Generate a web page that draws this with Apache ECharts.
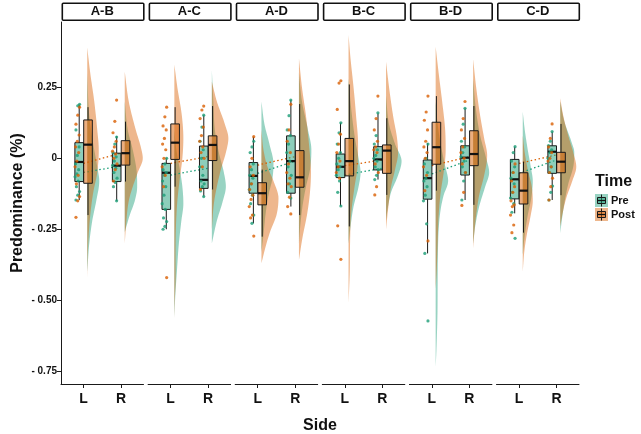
<!DOCTYPE html>
<html><head><meta charset="utf-8">
<script src="https://cdn.jsdelivr.net/npm/echarts@6/dist/echarts.min.js"></script>
<style>html,body{margin:0;padding:0;background:#fff}#c{width:641px;height:434px}</style>
</head><body><div id="c"></div>
<script>
// ---------------- DATA ----------------
const panels = ['A-B','A-C','A-D','B-C','B-D','C-D'];
const sides = ['L','R'];
const times = ['Pre','Post'];
const yTicks = [-0.75,-0.5,-0.25,0,0.25];
const yTickLabels = ['- 0.75','- 0.50','- 0.25','0','0.25'];

// individual observations (one array per panel)
const ptsPreL = [
  [0.19,0.185,0.10,0.04,0.01,-0.02,-0.04,-0.055,-0.065,-0.08,-0.10,-0.117,-0.13,-0.147],
  [0.0,-0.02,-0.04,-0.05,-0.06,-0.08,-0.1,-0.13,-0.16,-0.18,-0.21,-0.223,-0.24,-0.25],
  [0.06,0.04,0.02,-0.02,-0.04,-0.06,-0.07,-0.09,-0.11,-0.13,-0.16,-0.2,-0.229],
  [0.125,0.09,0.05,0.02,0.0,-0.02,-0.03,-0.04,-0.06,-0.08,-0.12,-0.168],
  [0.05,0.0,-0.02,-0.05,-0.07,-0.08,-0.1,-0.13,-0.15,-0.231,-0.335,-0.573],
  [0.041,0.02,-0.01,-0.03,-0.05,-0.07,-0.09,-0.12,-0.14,-0.16,-0.19,-0.282]
];
const ptsPostL = [
  [0.18,0.152,0.12,0.082,0.06,0.04,0.02,-0.01,-0.03,-0.06,-0.09,-0.135,-0.15,-0.208],
  [0.18,0.146,0.114,0.1,0.07,0.05,0.03,0.0,-0.03,-0.06,-0.1,-0.42],
  [0.076,0.0,-0.03,-0.06,-0.09,-0.11,-0.13,-0.145,-0.17,-0.2,-0.21,-0.274],
  [0.273,0.265,0.172,0.085,0.05,0.02,-0.01,-0.03,-0.05,-0.07,-0.238,-0.356],
  [0.219,0.163,0.134,0.1,0.06,0.04,0.02,0.0,-0.03,-0.06,-0.114,-0.291],
  [-0.02,-0.05,-0.08,-0.1,-0.12,-0.15,-0.164,-0.17,-0.2,-0.235,-0.262]
];
const ptsPreR = [
  [0.075,0.05,0.02,0.005,-0.01,-0.025,-0.035,-0.05,-0.07,-0.085,-0.1,-0.15],
  [0.152,0.11,0.06,0.03,0.0,-0.03,-0.06,-0.08,-0.09,-0.1,-0.115,-0.135],
  [0.205,0.15,0.1,0.08,0.05,0.02,-0.01,-0.03,-0.06,-0.09,-0.12,-0.14],
  [0.16,0.08,0.05,0.03,0.01,0.0,-0.01,-0.03,-0.04,-0.06,-0.075],
  [0.176,0.12,0.06,0.04,0.02,0.005,-0.01,-0.03,-0.05,-0.08,-0.147],
  [0.094,0.06,0.045,0.03,0.02,0.0,-0.03,-0.05,-0.098,-0.12,-0.147]
];
const ptsPostR = [
  [0.205,0.13,0.09,0.06,0.04,0.025,0.015,0.0,-0.02,-0.04,-0.08],
  [0.184,0.17,0.14,0.11,0.08,0.06,0.04,0.02,0.0,-0.03,-0.11],
  [0.19,0.1,0.06,0.02,-0.02,-0.05,-0.07,-0.09,-0.1,-0.137,-0.17,-0.196],
  [0.219,0.14,0.1,0.06,0.04,0.03,0.02,-0.02,-0.05,-0.1,-0.129],
  [0.2,0.14,0.1,0.07,0.04,0.02,0.0,-0.02,-0.05,-0.12,-0.166],
  [0.121,0.07,0.04,0.02,0.0,-0.01,-0.03,-0.05,-0.07,-0.1,-0.147]
];

// box stats [whiskerLow, q1, median, q3, whiskerHigh]
const boxPreL = [
  [-0.147,-0.082,-0.013,0.055,0.19],[-0.25,-0.18,-0.051,-0.018,0.0],[-0.229,-0.123,-0.062,-0.015,0.076],
  [-0.168,-0.068,-0.03,0.015,0.125],[-0.335,-0.144,-0.07,-0.006,0.053],[-0.194,-0.143,-0.074,-0.004,0.041]
];
const boxPostL = [
  [-0.2,-0.088,0.048,0.135,0.18],[-0.1,-0.004,0.055,0.121,0.18],[-0.276,-0.164,-0.123,-0.086,-0.04],
  [-0.24,-0.062,-0.01,0.07,0.26],[-0.114,-0.021,0.039,0.127,0.219],[-0.262,-0.161,-0.114,-0.051,-0.012]
];
const boxPreR = [
  [-0.15,-0.082,-0.026,0.018,0.078],[-0.135,-0.106,-0.076,0.043,0.152],[-0.17,-0.123,-0.01,0.079,0.205],
  [-0.075,-0.041,-0.004,0.041,0.158],[-0.147,-0.059,0.002,0.044,0.176],[-0.147,-0.053,0.023,0.044,0.094]
];
const boxPostR = [
  [-0.082,-0.024,0.018,0.062,0.129],[-0.11,-0.008,0.047,0.079,0.184],[-0.2,-0.102,-0.067,0.027,0.191],
  [-0.129,-0.053,0.027,0.047,0.141],[-0.164,-0.026,0.015,0.097,0.184],[-0.13,-0.051,-0.012,0.021,0.121]
];

// group means joined by dotted lines [L, R]
const meanPre  = [[-0.05,-0.027],[-0.059,-0.035],[-0.053,-0.01],[-0.059,-0.035],[-0.055,-0.006],[-0.053,-0.006]];
const meanPost = [[-0.018,0.018],[-0.018,0.006],[-0.024,0.006],[-0.026,-0.006],[-0.026,0.006],[-0.018,0.012]];

// half-violin density profiles [value, relative density]
const vioPreL = [
  [[0.3,0],[0.15,2],[0.05,6],[-0.03,10],[-0.08,12],[-0.15,9],[-0.22,5],[-0.3,2],[-0.4,0]],
  [[0.1,0],[0.03,2],[-0.03,5],[-0.1,8],[-0.16,9],[-0.22,7],[-0.3,4.5],[-0.4,2.5],[-0.48,1],[-0.56,0]],
  [[0.2,0],[0.12,3],[0.05,8],[-0.02,12],[-0.07,11],[-0.13,7],[-0.2,4],[-0.27,2],[-0.33,0]],
  [[0.28,0],[0.18,2.5],[0.08,6],[0,10],[-0.05,12],[-0.1,10],[-0.17,5],[-0.24,2],[-0.3,0]],
  [[0.2,0],[0.12,2],[0.05,5],[-0.02,9],[-0.08,12.5],[-0.13,8],[-0.18,5],[-0.25,3],[-0.35,2.2],[-0.45,2],[-0.55,1.8],[-0.63,1.2],[-0.7,0.5],[-0.734,0]],
  [[0.164,0],[0.1,2],[0.03,5],[-0.03,8],[-0.08,10],[-0.14,8.5],[-0.2,5],[-0.27,2],[-0.34,0]]
];
const vioPostL = [
  [[0.39,0],[0.3,3],[0.2,7],[0.1,10],[0.03,11.5],[-0.05,10],[-0.12,6],[-0.2,3],[-0.3,1],[-0.42,0]],
  [[0.33,0],[0.25,3],[0.15,7.5],[0.07,9],[0,8],[-0.07,5.5],[-0.15,3],[-0.25,1.5],[-0.35,1.2],[-0.42,1.3],[-0.5,0.5],[-0.563,0]],
  [[0.1,0],[0.03,2],[-0.03,6],[-0.08,12],[-0.14,17],[-0.2,15],[-0.26,8.5],[-0.32,3.5],[-0.37,0]],
  [[0.434,0],[0.35,2],[0.25,5],[0.15,7.5],[0.05,9.5],[-0.03,9],[-0.1,6],[-0.2,2.5],[-0.3,1.5],[-0.4,1.2],[-0.51,0]],
  [[0.393,0],[0.3,3],[0.2,6.5],[0.1,9.5],[0.03,10],[-0.05,8],[-0.12,5],[-0.2,3],[-0.3,2],[-0.4,1],[-0.46,0]],
  [[0.08,0],[0.02,2],[-0.04,5],[-0.1,9],[-0.15,10],[-0.2,8],[-0.26,4.5],[-0.33,1.5],[-0.4,0]]
];
const vioPreR = [
  [[0.2,0],[0.1,3],[0.03,8],[-0.05,12],[-0.1,12.4],[-0.15,10],[-0.2,5],[-0.26,0]],
  [[0.31,0],[0.2,1.5],[0.1,3],[0.02,7],[-0.05,12],[-0.1,14],[-0.15,11],[-0.22,5],[-0.3,0]],
  [[0.3,0],[0.2,3],[0.1,9],[0.03,12.4],[-0.04,11],[-0.1,7],[-0.17,3.5],[-0.25,1],[-0.3,0]],
  [[0.22,0],[0.12,3],[0.05,9],[-0.01,15.5],[-0.06,12],[-0.12,5],[-0.18,1.5],[-0.22,0]],
  [[0.28,0],[0.18,2.5],[0.08,7],[0,13],[-0.05,16],[-0.1,12],[-0.17,6],[-0.24,2],[-0.3,0]],
  [[0.2,0],[0.13,4],[0.06,11],[0.02,14],[-0.03,13],[-0.09,8],[-0.16,4],[-0.22,1.5],[-0.264,0]]
];
const vioPostR = [
  [[0.305,0],[0.2,4],[0.1,11],[0.04,16],[0,18],[-0.05,13],[-0.1,8],[-0.15,4],[-0.25,1],[-0.3,0]],
  [[0.27,0],[0.2,5],[0.12,13],[0.07,16.5],[0.02,14],[-0.04,9],[-0.1,5],[-0.16,2],[-0.25,0]],
  [[0.352,0],[0.25,3],[0.15,7],[0.05,10],[-0.05,12],[-0.12,11],[-0.2,8],[-0.28,3.5],[-0.358,0]],
  [[0.34,0],[0.25,3],[0.15,7],[0.07,11],[0.02,12],[-0.04,9],[-0.1,5],[-0.18,2],[-0.25,0]],
  [[0.349,0],[0.25,3],[0.15,7],[0.07,11],[0.01,14],[-0.06,11],[-0.13,6],[-0.2,3],[-0.27,1],[-0.317,0]],
  [[0.211,0],[0.15,3],[0.08,8],[0.02,13],[-0.03,16],[-0.08,12],[-0.14,6],[-0.2,2],[-0.24,0]]
];

// ---------------- LAYOUT / STYLE ----------------
const FONT = '"Liberation Sans", Arial, Helvetica, sans-serif';
const X0 = 61, PITCH = 87.1, PW = 82.5, TOP = 22, PH = 362;
const Y_MIN = -0.795, Y_MAX = 0.48, X_MIN = 0.4, X_MAX = 2.6;
const PRE_OFF = -0.115, POST_OFF = 0.12, BOX_W = 0.23;
const PT_OFF = -0.165, PT_SPREAD = 0.06;
const VIO_OFF = 0.1, VIO_SCALE = 0.0267;
const PRE_COL = '#1b9e77', POST_COL = '#d95f02';
const PRE_VIO = 'rgba(27,158,119,0.45)', POST_VIO = 'rgba(217,95,2,0.45)';
const PRE_BOX = 'rgba(27,158,119,0.5)', POST_BOX = 'rgba(217,95,2,0.5)';
const INK = '#1a1a1a';

function monotone(xs, ys){
  const n = xs.length, d = [], m = new Array(n);
  for (let i=0;i<n-1;i++) d.push((ys[i+1]-ys[i])/(xs[i+1]-xs[i]));
  m[0]=d[0]; m[n-1]=d[n-2];
  for (let i=1;i<n-1;i++) m[i] = d[i-1]*d[i] <= 0 ? 0 : (d[i-1]+d[i])/2;
  for (let i=0;i<n-1;i++){
    if (d[i]===0){ m[i]=0; m[i+1]=0; continue; }
    const a=m[i]/d[i], b=m[i+1]/d[i], s=a*a+b*b;
    if (s>9){ const t=3/Math.sqrt(s); m[i]=t*a*d[i]; m[i+1]=t*b*d[i]; }
  }
  return function(x){
    let i=0; while (i<n-2 && x>xs[i+1]) i++;
    const h=xs[i+1]-xs[i], t=(x-xs[i])/h, t2=t*t, t3=t2*t;
    return (2*t3-3*t2+1)*ys[i] + (t3-2*t2+t)*h*m[i] + (-2*t3+3*t2)*ys[i+1] + (t3-t2)*h*m[i+1];
  };
}

const grids=[], xAxes=[], yAxes=[], series=[], graphics=[];
panels.forEach((name, i) => {
  const left = X0 + PITCH*i;
  grids.push({left: left, top: TOP, width: PW, height: PH});
  xAxes.push({
    gridIndex: i, type: 'value', min: X_MIN, max: X_MAX,
    axisLine: {show: true, onZero: false, lineStyle: {color: INK, width: 1}},
    axisTick: {show: true, customValues: [1,2], length: 4, lineStyle: {color: INK}},
    axisLabel: {show: true, customValues: [1,2], formatter: v => sides[Math.round(v)-1],
      fontFamily: FONT, fontWeight: 'bold', fontSize: 14, color: '#111', margin: 8},
    splitLine: {show: false}
  });
  yAxes.push({
    gridIndex: i, type: 'value', min: Y_MIN, max: Y_MAX,
    name: i===0 ? 'Predominance (%)' : '', nameLocation: 'middle', nameGap: 35, nameRotate: 90,
    nameTextStyle: {fontFamily: FONT, fontWeight: 'bold', fontSize: 16, color: '#111'},
    axisLine: {show: i===0, onZero: false, lineStyle: {color: INK, width: 1}},
    axisTick: {show: i===0, customValues: yTicks, length: 4, lineStyle: {color: INK}},
    axisLabel: {show: i===0, customValues: yTicks,
      formatter: v => { const k = yTicks.findIndex(t => Math.abs(t-v) < 1e-6); return k>=0 ? yTickLabels[k] : ''; },
      fontFamily: FONT, fontWeight: 'bold', fontSize: 10, color: '#111', margin: 4},
    splitLine: {show: false}
  });

  const vio = [[vioPreL[i], vioPostL[i]], [vioPreR[i], vioPostR[i]]];
  series.push({
    type: 'custom', xAxisIndex: i, yAxisIndex: i, z: 1, silent: true,
    data: [[1,0],[1,1],[2,0],[2,1]],
    renderItem: function(params, api){
      const side = api.value(0), t = api.value(1);
      const asc = vio[side-1][t].slice().sort((a,b) => a[0]-b[0]);
      const xs = asc.map(k => k[0]), ys = asc.map(k => k[1]);
      const f = monotone(xs, ys);
      const base = side + VIO_OFF, lo = xs[0], hi = xs[xs.length-1];
      const pts = [];
      const N = 90;
      for (let k=0;k<=N;k++){
        const v = lo + (hi-lo)*k/N;
        pts.push(api.coord([base + Math.max(0, f(v))*VIO_SCALE, v]));
      }
      pts.push(api.coord([base, hi]));
      pts.push(api.coord([base, lo]));
      return {type: 'polygon', shape: {points: pts}, style: {fill: t ? POST_VIO : PRE_VIO}};
    }
  });

  series.push({type:'line', xAxisIndex:i, yAxisIndex:i, z:2, silent:true, symbol:'none',
    data: [[1, meanPre[i][0]], [2, meanPre[i][1]]],
    lineStyle: {color: PRE_COL, width: 1.3, type: [1.5, 2.5]}});
  series.push({type:'line', xAxisIndex:i, yAxisIndex:i, z:2, silent:true, symbol:'none',
    data: [[1, meanPost[i][0]], [2, meanPost[i][1]]],
    lineStyle: {color: POST_COL, width: 1.3, type: [1.5, 2.5]}});

  const boxes = [[1,0].concat(boxPreL[i]), [1,1].concat(boxPostL[i]), [2,0].concat(boxPreR[i]), [2,1].concat(boxPostR[i])];
  series.push({
    type: 'custom', xAxisIndex: i, yAxisIndex: i, z: 3, silent: true,
    encode: {x: 0, y: [2,3,4,5,6]},
    data: boxes,
    renderItem: function(params, api){
      const side = api.value(0), t = api.value(1);
      const lo = api.value(2), q1 = api.value(3), med = api.value(4), q3 = api.value(5), hi = api.value(6);
      const c = side + (t ? POST_OFF : PRE_OFF);
      const pLo = api.coord([c, lo]), pQ1 = api.coord([c, q1]), pQ3 = api.coord([c, q3]), pHi = api.coord([c, hi]);
      const tl = api.coord([c - BOX_W/2, q3]), br = api.coord([c + BOX_W/2, q1]);
      const m1 = api.coord([c - BOX_W/2, med]), m2 = api.coord([c + BOX_W/2, med]);
      const ls = {stroke: INK, lineWidth: 1};
      return {type: 'group', children: [
        {type: 'line', shape: {x1: pHi[0], y1: pHi[1], x2: pQ3[0], y2: pQ3[1]}, style: ls},
        {type: 'line', shape: {x1: pQ1[0], y1: pQ1[1], x2: pLo[0], y2: pLo[1]}, style: ls},
        {type: 'rect', shape: {x: tl[0], y: tl[1], width: br[0]-tl[0], height: br[1]-tl[1]},
          style: {fill: t ? POST_BOX : PRE_BOX, stroke: INK, lineWidth: 1}},
        {type: 'line', shape: {x1: m1[0], y1: m1[1], x2: m2[0], y2: m2[1]}, style: {stroke: '#111', lineWidth: 2.2}}
      ]};
    }
  });

  const jit = j => ((((j*7) % 11) / 10) - 0.5) * 2 * PT_SPREAD;
  const mk = (arr, side) => arr.map((v, j) => [side + PT_OFF + jit(j + side*3), v]);
  series.push({type:'scatter', xAxisIndex:i, yAxisIndex:i, z:4, silent:true, symbolSize: 3.2,
    itemStyle: {color: PRE_COL}, data: mk(ptsPreL[i], 1).concat(mk(ptsPreR[i], 2))});
  series.push({type:'scatter', xAxisIndex:i, yAxisIndex:i, z:4, silent:true, symbolSize: 3.2,
    itemStyle: {color: POST_COL}, data: mk(ptsPostL[i], 1).concat(mk(ptsPostR[i], 2))});

  // facet strip
  graphics.push({type:'rect', left: left + 0.5, top: 2.5, shape: {width: PW - 1, height: 17, r: 1},
    style: {fill: '#fff', stroke: '#111', lineWidth: 1.6}, z: 10});
  graphics.push({type:'text', x: left + PW/2, y: 11.5, z: 11,
    style: {text: name, align: 'center', verticalAlign: 'middle', fill: '#111',
      font: 'bold 13px ' + FONT}});
});

// x axis title
graphics.push({type:'text', x: (X0 + X0 + PITCH*5 + PW)/2, y: 426, z: 11,
  style: {text: 'Side', align: 'center', verticalAlign: 'middle', fill: '#111', font: 'bold 16px ' + FONT}});

// legend
const LX = 595;
graphics.push({type:'text', x: LX, y: 182, style: {text: 'Time', align: 'left', verticalAlign: 'middle', fill: '#111', font: 'bold 16px ' + FONT}});
[[PRE_VIO, PRE_BOX, 194], [POST_VIO, POST_BOX, 208]].forEach((k, j) => {
  const y = k[2];
  graphics.push({type:'rect', shape:{x: LX, y: y, width: 13, height: 13}, style:{fill: k[0]}});
  graphics.push({type:'line', shape:{x1: LX+6.5, y1: y+0.5, x2: LX+6.5, y2: y+12.5}, style:{stroke: INK, lineWidth: 1}});
  graphics.push({type:'rect', shape:{x: LX+2.5, y: y+3.5, width: 8, height: 6}, style:{fill: k[1], stroke: INK, lineWidth: 1}});
  graphics.push({type:'line', shape:{x1: LX+2.5, y1: y+6.5, x2: LX+10.5, y2: y+6.5}, style:{stroke: '#111', lineWidth: 1.2}});
  graphics.push({type:'text', x: LX + 16, y: y + 6.5,
    style: {text: times[j], align: 'left', verticalAlign: 'middle', fill: '#111', font: 'bold 11px ' + FONT}});
});

const chart = echarts.init(document.getElementById('c'), null, {renderer: 'canvas'});
chart.setOption({
  animation: false,
  backgroundColor: '#fff',
  grid: grids, xAxis: xAxes, yAxis: yAxes, series: series, graphic: graphics
});
</script>
</body></html>
